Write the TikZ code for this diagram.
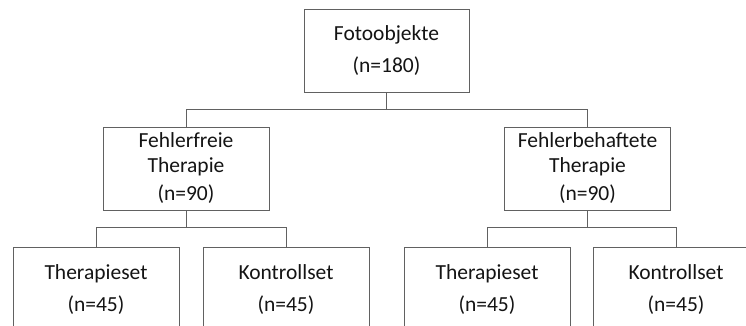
\documentclass[tikz,border=0pt]{standalone}
\usepackage{fontspec}
\setmainfont{Carlito}
\begin{document}
\begin{tikzpicture}[x=1pt,y=-1pt,
  box/.style={draw=black!62, line width=0.8pt, fill=white, align=center,
    inner sep=0pt, minimum width=166pt, minimum height=83pt,
    font=\fontsize{21.5}{25}\selectfont, text=black!92},
  leaf/.style={box, minimum height=86pt},
  link/.style={draw=black!62, line width=0.8pt}]
  \useasboundingbox (0,0) rectangle (746,325);
  \clip (0,0) rectangle (746,325);

  % root
  \node[box, minimum width=165pt] (root) at (386.5,50.5) {Fotoobjekte\\[7pt](n=180)};

  % second level
  \node[box] (free) at (186,168.5) {Fehlerfreie\\Therapie\\[3pt](n=90)};
  \node[box] (err) at (587.5,168.5) {Fehlerbehaftete\\Therapie\\[3pt](n=90)};

  % leaves (their lower edges run below the page)
  \node[leaf] (ft) at (96,290) {Therapieset\\[7pt](n=45)};
  \node[leaf] (fk) at (286,290) {Kontrollset\\[7pt](n=45)};
  \node[leaf] (et) at (487,290) {Therapieset\\[7pt](n=45)};
  \node[leaf] (ek) at (676,290) {Kontrollset\\[7pt](n=45)};

  % branch points
  \coordinate (j0) at (386.5,109);
  \coordinate (j1) at (186,227);
  \coordinate (j2) at (587.5,227);

  \draw[link] (root.south) -- (j0) -| (free.north);
  \draw[link] (j0) -| (err.north);
  \draw[link] (free.south) -- (j1) -| (ft.north);
  \draw[link] (j1) -| (fk.north);
  \draw[link] (err.south) -- (j2) -| (et.north);
  \draw[link] (j2) -| (ek.north);
\end{tikzpicture}
\end{document}
